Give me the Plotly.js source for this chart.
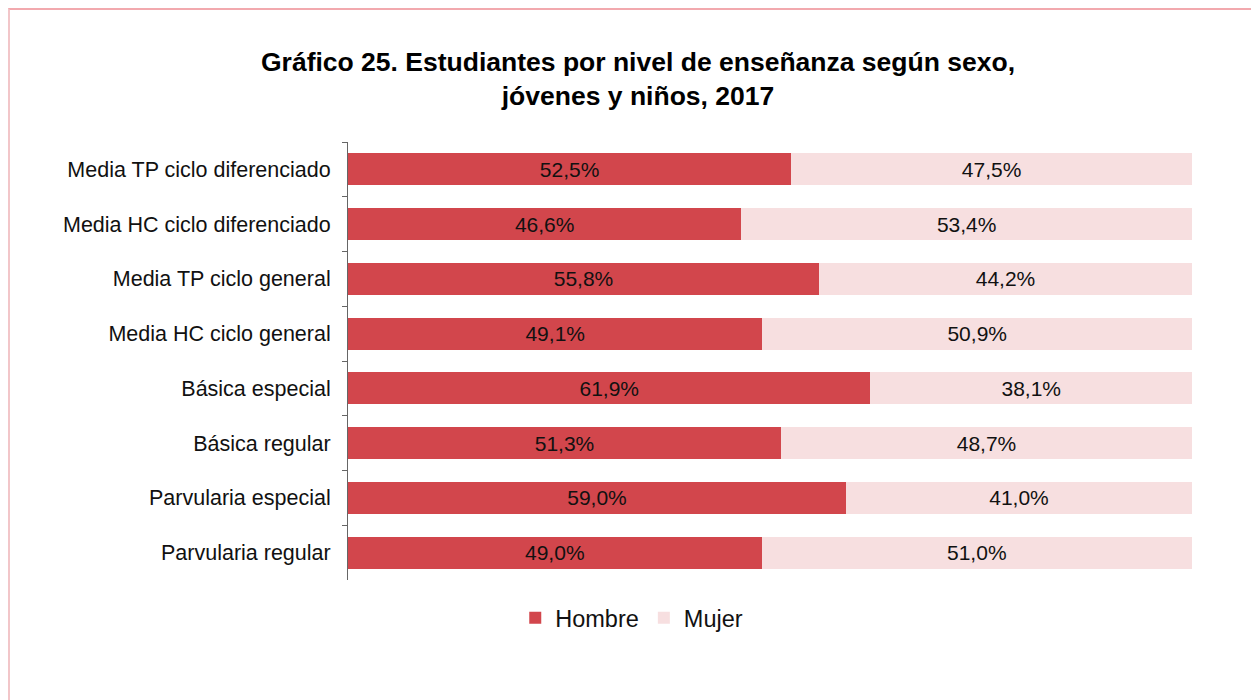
<!DOCTYPE html>
<html>
<head>
<meta charset="utf-8">
<script src="https://cdn.plot.ly/plotly-3.0.1.min.js"></script>
<style>
html,body{margin:0;padding:0;background:#fff;}
#wrap{position:relative;width:1251px;height:700px;}
#chart{width:1251px;height:700px;}
#frame{position:absolute;left:8px;top:8px;width:1300px;height:800px;border-top:2px solid #f2a9ae;border-left:2px solid #f2c6c9;pointer-events:none;box-sizing:border-box;}
</style>
</head>
<body>
<div id="wrap">
<div id="chart"></div>
<div id="frame"></div>
</div>
<script>
var categories = [
  "Media TP ciclo diferenciado",
  "Media HC ciclo diferenciado",
  "Media TP ciclo general",
  "Media HC ciclo general",
  "Básica especial",
  "Básica regular",
  "Parvularia especial",
  "Parvularia regular"
];
var hombre = [52.5, 46.6, 55.8, 49.1, 61.9, 51.3, 59.0, 49.0];
var mujer  = [47.5, 53.4, 44.2, 50.9, 38.1, 48.7, 41.0, 51.0];
var seriesNames = ["Hombre", "Mujer"];

var font = "Arial, 'Liberation Sans', sans-serif";

var traces = [
  {
    type: "bar", orientation: "h", name: seriesNames[0],
    y: categories, x: hombre,
    marker: {color: "#d2464c"},
    texttemplate: "%{x:.1f}%", textposition: "inside", insidetextanchor: "middle",
    textfont: {family: font, size: 21, color: "#111"},
    hoverinfo: "skip"
  },
  {
    type: "bar", orientation: "h", name: seriesNames[1],
    y: categories, x: mujer,
    marker: {color: "#f7dfe0"},
    texttemplate: "%{x:.1f}%", textposition: "inside", insidetextanchor: "middle",
    textfont: {family: font, size: 21, color: "#111"},
    hoverinfo: "skip"
  }
];

var layout = {
  width: 1251, height: 700,
  paper_bgcolor: "#fff", plot_bgcolor: "#fff",
  separators: ",.",
  barmode: "stack",
  bargap: 0.415,
  font: {family: font, size: 21, color: "#111"},
  margin: {l: 348, r: 59, t: 142, b: 120},
  title: {
    text: "<b>Gráfico 25. Estudiantes por nivel de enseñanza según sexo,<br>jóvenes y niños, 2017</b>",
    font: {family: font, size: 26.5, color: "#000"},
    x: 0.51, xref: "container", xanchor: "center",
    y: 1 - 71/700, yref: "container", yanchor: "top"
  },
  xaxis: {range: [0, 100], visible: false, fixedrange: true},
  yaxis: {
    autorange: "reversed",
    type: "category",
    showline: true, linecolor: "#666", linewidth: 1,
    ticks: "outside", ticklen: 5, tickcolor: "#666", tickwidth: 1,
    tickson: "boundaries",
    ticklabelstandoff: 12,
    showgrid: false, zeroline: false,
    tickfont: {family: font, size: 21.5, color: "#111"}
  },
  showlegend: true,
  legend: {
    orientation: "h",
    xref: "container", yref: "container",
    x: 0.505, xanchor: "center",
    y: 1 - 618/700, yanchor: "middle",
    font: {family: font, size: 23.5, color: "#111"},
    itemwidth: 30,
    traceorder: "normal"
  }
};

Plotly.newPlot("chart", traces, layout, {displayModeBar: false, staticPlot: true});
</script>
</body>
</html>
